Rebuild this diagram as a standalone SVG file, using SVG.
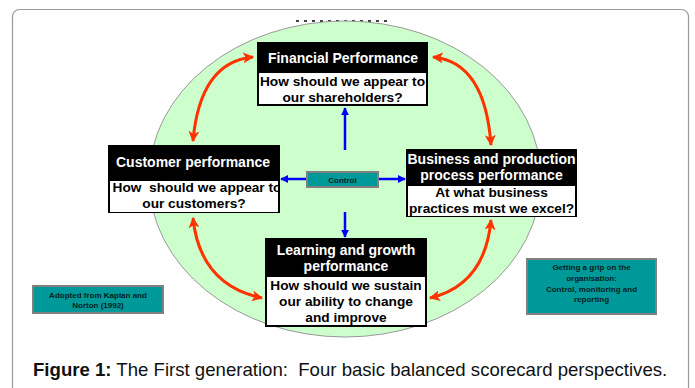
<svg xmlns="http://www.w3.org/2000/svg" width="695" height="388" viewBox="0 0 695 388">
<defs>
<style>
.frame{fill:#fff;stroke:#9a9a9a;stroke-width:1.2}
.ell{fill:#ccffcc;stroke:#999;stroke-width:1}
.box{fill:#000}
.inner{fill:#fff}
.tt{font-family:"Liberation Sans",Arial,sans-serif;font-weight:bold;font-size:14px;fill:#fff;text-anchor:middle}
.qt{font-family:"Liberation Sans",Arial,sans-serif;font-weight:bold;font-size:13.7px;fill:#000;text-anchor:middle}
.teal{fill:#009999;stroke:#808080;stroke-width:2}
.st{font-family:"Liberation Sans",Arial,sans-serif;font-weight:bold;font-size:8px;fill:#002222;text-anchor:middle}
.red{fill:none;stroke:#ff3300;stroke-width:3}
.blue{fill:none;stroke:#0000ff;stroke-width:2.5}
.cap{font-family:"Liberation Sans",Arial,sans-serif;font-size:18.6px;fill:#111}
</style>
<marker id="ra" viewBox="0 0 10 10" refX="9" refY="5" markerWidth="11" markerHeight="11" markerUnits="userSpaceOnUse" orient="auto-start-reverse">
<path d="M0,0 L10,5 L0,10 L2.5,5 Z" fill="#ff3300"/>
</marker>
<marker id="ba" viewBox="0 0 10 10" refX="9" refY="5" markerWidth="8" markerHeight="8" markerUnits="userSpaceOnUse" orient="auto">
<path d="M0,0 L10,5 L0,10 Z" fill="#0000ff"/>
</marker>
<clipPath id="cc"><rect x="110" y="181" width="170" height="31"/></clipPath>
</defs>
<rect class="frame" x="12.5" y="9.5" width="676" height="400" rx="7"/>
<line x1="296" y1="21" x2="391" y2="21" stroke="#000" stroke-width="1.5" stroke-dasharray="3,5"/>
<ellipse class="ell" cx="345" cy="179" rx="196" ry="158"/>

<g id="connectors">
<path class="red" d="M253,57 Q200,62 193,141" marker-start="url(#ra)" marker-end="url(#ra)"/>
<path class="red" d="M433,57 Q485,62 491,145" marker-start="url(#ra)" marker-end="url(#ra)"/>
<path class="red" d="M193,218 Q200,285 262,298" marker-start="url(#ra)" marker-end="url(#ra)"/>
<path class="red" d="M491,220 Q485,285 430,298" marker-start="url(#ra)" marker-end="url(#ra)"/>
<line class="blue" x1="307" y1="179" x2="281" y2="179" marker-end="url(#ba)"/>
<line class="blue" x1="378" y1="179" x2="405" y2="179" marker-end="url(#ba)"/>
<line class="blue" x1="345" y1="150" x2="345" y2="108" marker-end="url(#ba)"/>
<line class="blue" x1="345" y1="212" x2="345" y2="237" marker-end="url(#ba)"/>
</g>

<g id="financial">
<rect class="box" x="257" y="42" width="171" height="64"/>
<rect class="inner" x="259" y="73" width="167" height="31"/>
<text class="tt" x="343" y="63">Financial Performance</text>
<text class="qt" x="342.5" y="86">How should we appear to</text>
<text class="qt" x="342.5" y="102">our shareholders?</text>
</g>

<g id="customer">
<rect class="box" x="108" y="145" width="172" height="68"/>
<rect class="inner" x="110" y="181" width="168" height="31"/>
<text class="tt" x="193" y="167">Customer performance</text>
<g clip-path="url(#cc)">
<text class="qt" x="197" y="192" xml:space="preserve">How  should we appear to</text>
</g>
<text class="qt" x="194" y="208">our customers?</text>
</g>

<g id="control">
<rect class="teal" x="307" y="172" width="71" height="15"/>
<text class="st" x="342.5" y="182.5">Control</text>
</g>

<g id="business">
<rect class="box" x="406" y="149" width="171" height="68"/>
<rect class="inner" x="408" y="186" width="167" height="30"/>
<text class="tt" x="491.5" y="164">Business and production</text>
<text class="tt" x="491.5" y="180">process performance</text>
<text class="qt" x="491.5" y="197">At what business</text>
<text class="qt" x="491.5" y="213">practices must we excel?</text>
</g>

<g id="learning">
<rect class="box" x="265" y="238" width="162" height="89"/>
<rect class="inner" x="267" y="277" width="158" height="48"/>
<text class="tt" x="346" y="254.5">Learning and growth</text>
<text class="tt" x="346" y="271">performance</text>
<text class="qt" x="346" y="290">How should we sustain</text>
<text class="qt" x="346" y="306">our ability to change</text>
<text class="qt" x="346" y="322">and improve</text>
</g>

<g id="adopted">
<rect class="teal" x="33" y="286" width="130" height="27"/>
<text class="st" x="98" y="297.5">Adopted from Kaplan and</text>
<text class="st" x="98" y="307.5">Norton (1992)</text>
</g>

<g id="grip">
<rect class="teal" x="527" y="259" width="129" height="55"/>
<text class="st" x="591.5" y="270">Getting a grip on the</text>
<text class="st" x="591.5" y="281">organisation:</text>
<text class="st" x="591.5" y="291.5">Control, monitoring and</text>
<text class="st" x="591.5" y="302">reporting</text>
</g>

<text class="cap" x="33" y="376" xml:space="preserve"><tspan font-weight="bold">Figure 1:</tspan> The First generation:  Four basic balanced scorecard perspectives.</text>
</svg>
